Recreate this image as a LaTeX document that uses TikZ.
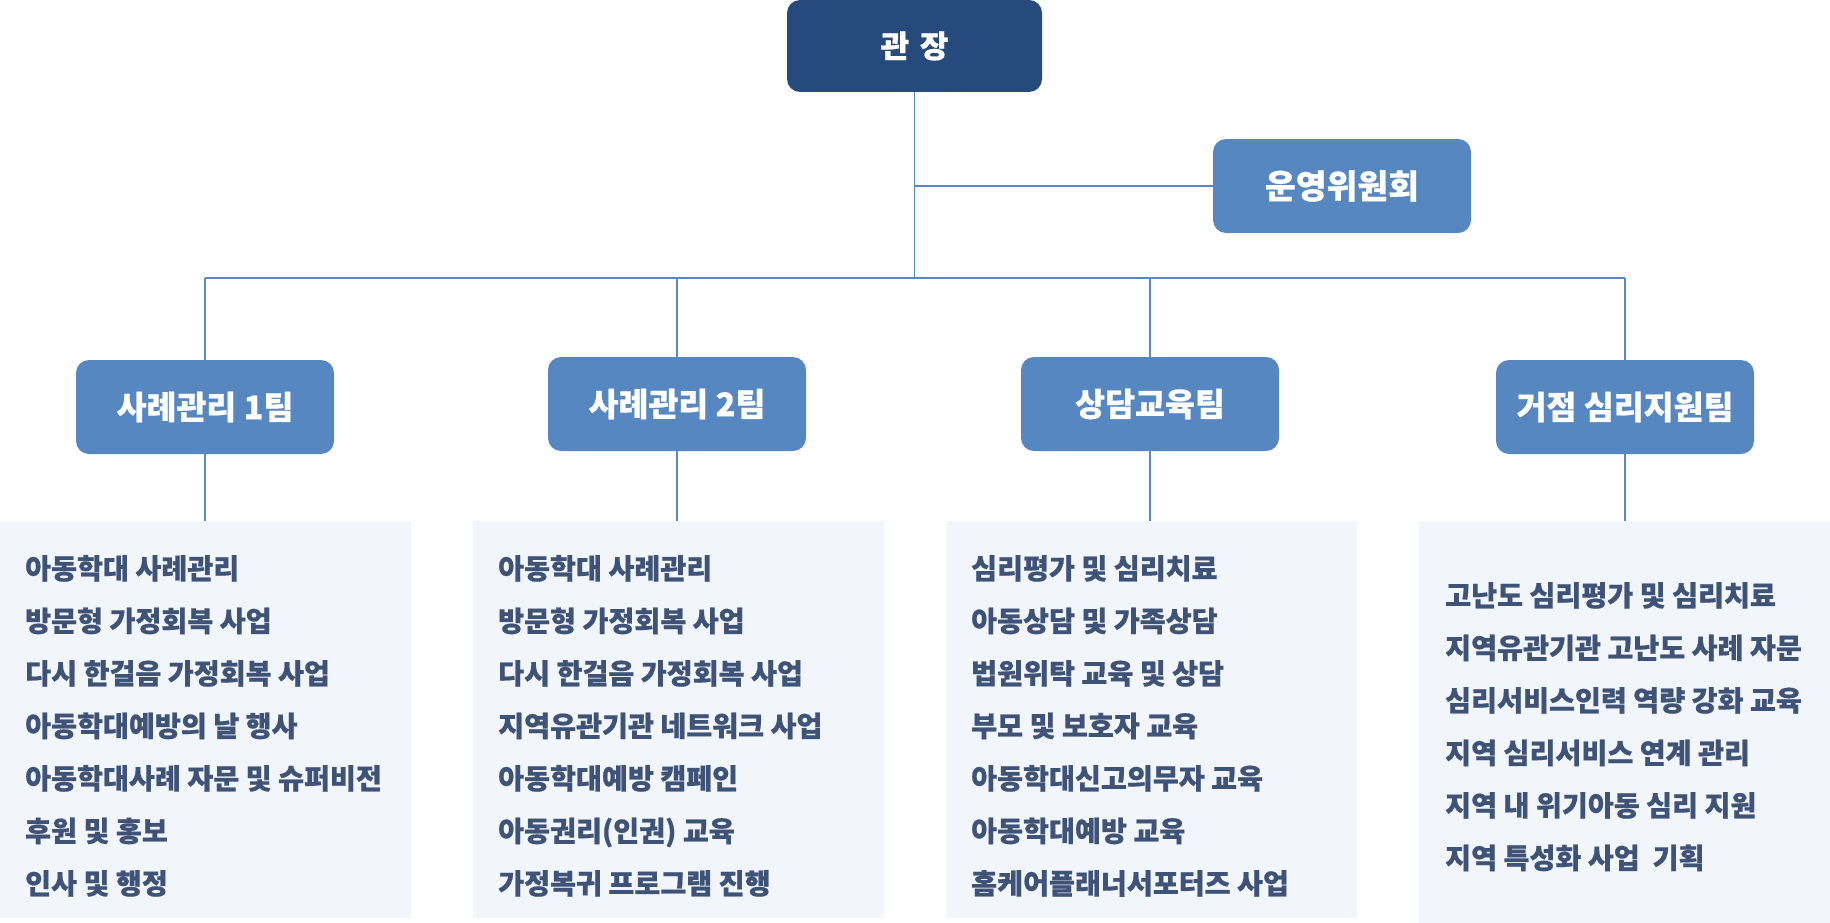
\documentclass[tikz,border=0pt]{standalone}
\usepackage{fontspec}
\setmainfont{Noto Sans CJK KR}[BoldFeatures={FakeBold=0.6}]
\definecolor{navy}{RGB}{37,74,123}
\definecolor{teamblue}{RGB}{86,135,192}
\definecolor{listbg}{RGB}{242,246,250}
\definecolor{listtext}{RGB}{62,83,119}
\definecolor{linecol}{RGB}{90,135,198}
\tikzset{
  boss/.style={rectangle, rounded corners=13pt, fill=navy, minimum width=255pt, minimum height=92pt, inner sep=0pt, text=white, font=\bfseries\fontsize{31}{36}\selectfont},
  team/.style={rectangle, rounded corners=13pt, fill=teamblue, minimum width=258pt, minimum height=94pt, inner sep=0pt, text=white, font=\bfseries\fontsize{32.5}{38}\selectfont},
  listbox/.style={rectangle, fill=listbg, inner sep=0pt, anchor=north west, minimum width=411pt},
  item/.style={anchor=base west, inner sep=0pt, text=listtext, font=\bfseries\fontsize{28.2}{32}\selectfont},
  link/.style={draw=linecol, line width=1.3pt},
}
\begin{document}
\begin{tikzpicture}[x=1pt,y=-1pt]
\useasboundingbox (0,0) rectangle (1830,923);
% boxes
\node[boss] (gz) at (914.5,46) {관\hspace{0.35em}장};
\node[team, font=\bfseries\fontsize{33.5}{38}\selectfont] (ow) at (1342,186) {운영위원회};
\node[team] (t1) at (205,407) {사례관리 1팀};
\node[team] (t2) at (677,404) {사례관리 2팀};
\node[team] (t3) at (1150,404) {상담교육팀};
\node[team] (t4) at (1625,407) {거점 심리지원팀};
\node[listbox, minimum height=397pt] (L1) at (0,521) {};
\node[listbox, minimum height=397pt] (L2) at (473,521) {};
\node[listbox, minimum height=397pt] (L3) at (946,521) {};
\node[listbox, minimum height=402pt] (L4) at (1419,521) {};
% connectors
\coordinate (bus) at (914.5,278);
\draw[link] (gz.south) -- (bus);
\draw[link] (gz.south |- ow.west) -- (ow.west);
\draw[link] (t1.north |- bus) -- (t4.north |- bus);
\foreach \t/\l in {t1/L1,t2/L2,t3/L3,t4/L4}{
  \draw[link] (\t.north |- bus) -- (\t.north);
  \draw[link] (\t.south) -- (\t.south |- \l.north);
}
% list texts
\foreach \s [count=\i] in {아동학대 사례관리, 방문형 가정회복 사업, 다시 한걸음 가정회복 사업, 아동학대예방의 날 행사, 아동학대사례 자문 및 슈퍼비전, 후원 및 홍보, 인사 및 행정}
  {\node[item] (a\i) at (25,{579+52.5*(\i-1)}) {\s};}
\foreach \s [count=\i] in {아동학대 사례관리, 방문형 가정회복 사업, 다시 한걸음 가정회복 사업, 지역유관기관 네트워크 사업, 아동학대예방 캠페인, 아동권리(인권) 교육, 가정복귀 프로그램 진행}
  {\node[item] (b\i) at (498,{579+52.5*(\i-1)}) {\s};}
\foreach \s [count=\i] in {심리평가 및 심리치료, 아동상담 및 가족상담, 법원위탁 교육 및 상담, 부모 및 보호자 교육, 아동학대신고의무자 교육, 아동학대예방 교육, 홈케어플래너서포터즈 사업}
  {\node[item] (c\i) at (971,{579+52.5*(\i-1)}) {\s};}
\foreach \s [count=\i] in {고난도 심리평가 및 심리치료, 지역유관기관 고난도 사례 자문, 심리서비스인력 역량 강화 교육, 지역 심리서비스 연계 관리, 지역 내 위기아동 심리 지원, 지역 특성화 사업\ \ 기획}
  {\node[item] (d\i) at (1445,{606+52.5*(\i-1)}) {\s};}
\end{tikzpicture}
\end{document}
